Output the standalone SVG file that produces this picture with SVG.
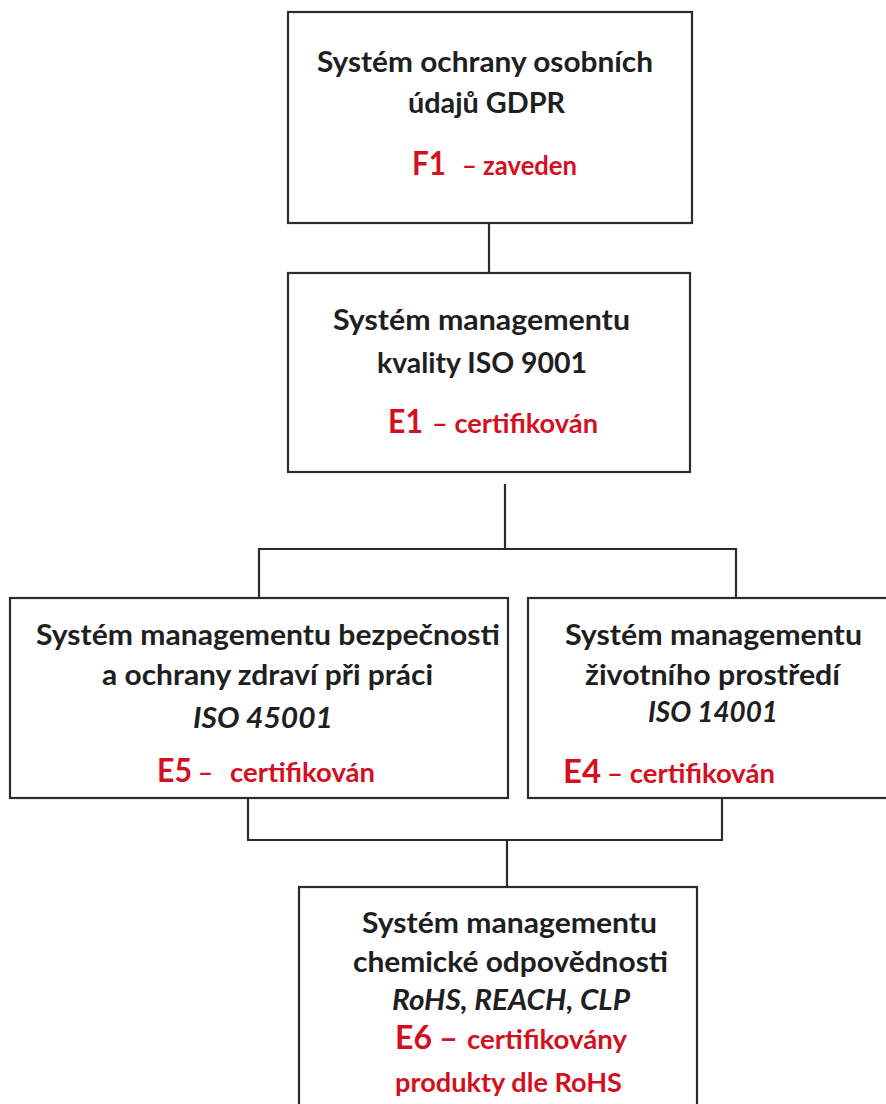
<svg xmlns="http://www.w3.org/2000/svg" width="886" height="1104" viewBox="0 0 886 1104">
<style>
.box{fill:#fff;stroke:#2a2d2c;stroke-width:2.2}
.ln{fill:none;stroke:#2a2d2c;stroke-width:2.2}
.t{font-family:Lato,"Open Sans","Liberation Sans",sans-serif;font-weight:700;font-size:28px;fill:#1d201f}
.i{font-style:italic}
.r{fill:#d3101f}
.big{font-size:32px}
.sm{font-size:26px}
</style>
<rect width="886" height="1104" fill="#fff"/>
<g id="connectors">
<path class="ln" d="M489 223 V273"/>
<path class="ln" d="M505 484 V549 M259 549 H736 M259 548 V598 M736 548 V598"/>
<path class="ln" d="M248 798 V840 M722 798 V840 M247 840 H723 M507 840 V887"/>
</g>
<g id="gdpr">
<rect class="box" x="288" y="12" width="404" height="211"/>
<text class="t" x="317" y="72" textLength="336" lengthAdjust="spacingAndGlyphs">Systém ochrany osobních</text>
<text class="t" x="408" y="113" textLength="157" lengthAdjust="spacingAndGlyphs">údajů GDPR</text>
<text class="t r big" x="412" y="175" textLength="34" lengthAdjust="spacingAndGlyphs">F1</text>
<text class="t r sm" x="462" y="175" textLength="115" lengthAdjust="spacingAndGlyphs">– zaveden</text>
</g>
<g id="iso9001">
<rect class="box" x="288" y="273" width="402" height="199"/>
<text class="t" x="333" y="330" textLength="297" lengthAdjust="spacingAndGlyphs">Systém managementu</text>
<text class="t" x="377" y="373" textLength="210" lengthAdjust="spacingAndGlyphs">kvality ISO 9001</text>
<text class="t r big" x="388" y="433" textLength="35" lengthAdjust="spacingAndGlyphs">E1</text>
<text class="t r sm" x="432" y="433" textLength="166" lengthAdjust="spacingAndGlyphs">– certifikován</text>
</g>
<g id="iso45001">
<rect class="box" x="10" y="598" width="498" height="200"/>
<text class="t" x="36" y="645" textLength="464" lengthAdjust="spacingAndGlyphs">Systém managementu bezpečnosti</text>
<text class="t" x="102" y="685" textLength="331" lengthAdjust="spacingAndGlyphs">a ochrany zdraví při práci</text>
<text class="t i" x="193" y="728" textLength="140" lengthAdjust="spacingAndGlyphs">ISO 45001</text>
<text class="t r big" x="157" y="782" textLength="35" lengthAdjust="spacingAndGlyphs">E5</text>
<text class="t r sm" x="198" y="782" textLength="15" lengthAdjust="spacingAndGlyphs">–</text>
<text class="t r sm" x="230" y="782" textLength="145" lengthAdjust="spacingAndGlyphs">certifikován</text>
</g>
<g id="iso14001">
<rect class="box" x="528" y="598" width="372" height="200"/>
<text class="t" x="565" y="645" textLength="297" lengthAdjust="spacingAndGlyphs">Systém managementu</text>
<text class="t" x="585" y="685" textLength="255" lengthAdjust="spacingAndGlyphs">životního prostředí</text>
<text class="t i" x="648" y="722" textLength="130" lengthAdjust="spacingAndGlyphs">ISO 14001</text>
<text class="t r big" x="563" y="783" textLength="38" lengthAdjust="spacingAndGlyphs">E4</text>
<text class="t r sm" x="607" y="783" textLength="168" lengthAdjust="spacingAndGlyphs">– certifikován</text>
</g>
<g id="chem">
<rect class="box" x="299" y="887" width="398" height="240"/>
<text class="t" x="362" y="933" textLength="295" lengthAdjust="spacingAndGlyphs">Systém managementu</text>
<text class="t" x="353" y="972" textLength="315" lengthAdjust="spacingAndGlyphs">chemické odpovědnosti</text>
<text class="t i" x="392" y="1010" textLength="238" lengthAdjust="spacingAndGlyphs">RoHS, REACH, CLP</text>
<text class="t r big" x="395" y="1049" textLength="37" lengthAdjust="spacingAndGlyphs">E6</text>
<text class="t r big" x="439" y="1049" textLength="19" lengthAdjust="spacingAndGlyphs">–</text>
<text class="t r sm" x="467" y="1049" textLength="160" lengthAdjust="spacingAndGlyphs">certifikovány</text>
<text class="t r sm" x="395" y="1092" textLength="227" lengthAdjust="spacingAndGlyphs">produkty dle RoHS</text>
</g>
</svg>
